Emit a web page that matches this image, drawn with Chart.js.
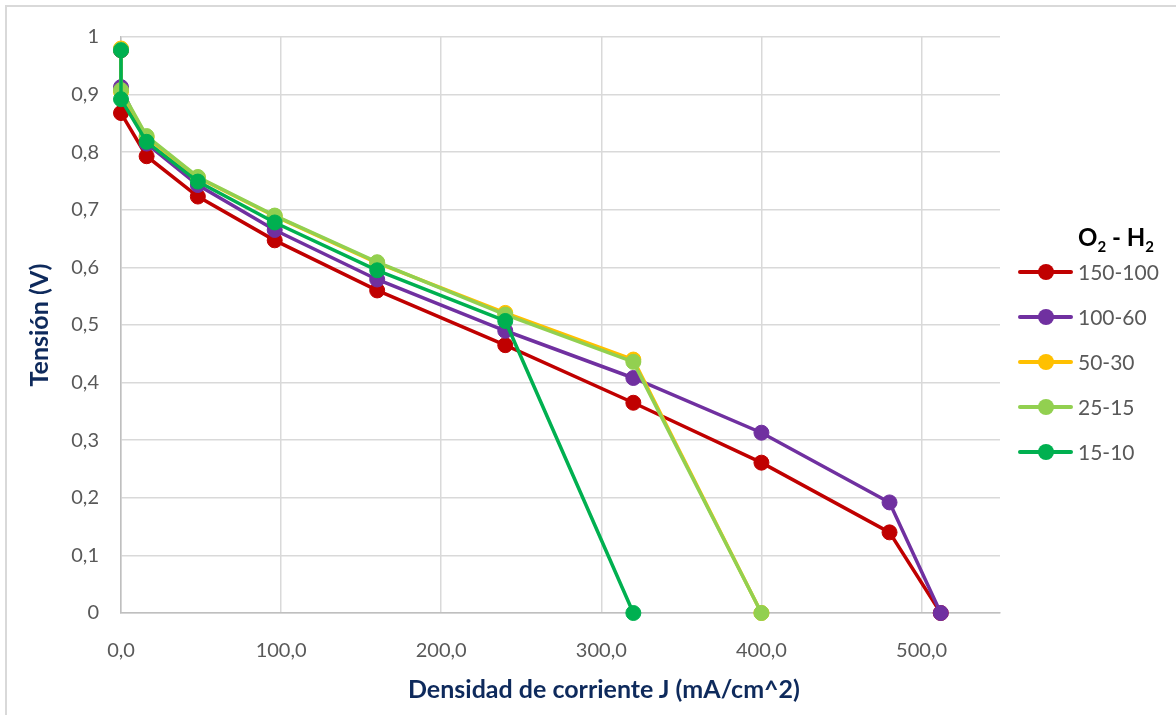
<!DOCTYPE html>
<html>
<head>
<meta charset="utf-8">
<script src="https://cdn.jsdelivr.net/npm/chart.js@4"></script>
<style>
    html, body { margin: 0; padding: 0; background: #ffffff; overflow: hidden; }
    #wrap { position: relative; width: 1176px; height: 715px; }
    #frame { position: absolute; left: 5px; top: 5px; width: 1200px; height: 740px; border: 2px solid #D9D9D9; box-sizing: border-box; pointer-events: none; }
    #xtitle { position: absolute; left: 0; top: 673px; width: 1208px; text-align: center; font-family: Lato, sans-serif; font-weight: bold; font-size: 25px; line-height: 30px; color: #0E2A5C; white-space: nowrap; }
    #legend { position: absolute; left: 1018px; top: 222px; font-family: Lato, sans-serif; }
    #legend .title { position: absolute; left: 60px; top: 0; font-weight: bold; font-size: 24px; color: #000; white-space: nowrap; }
    #legend .title sub { font-size: 15px; }
    #legend .item { position: absolute; left: 0; height: 24px; width: 160px; }
    #legend .swatch { position: absolute; left: 0; top: 10px; width: 55px; height: 4px; border-radius: 2px; }
    #legend .dot { position: absolute; left: 20px; top: 4px; width: 16px; height: 16px; border-radius: 50%; }
    #legend .label { position: absolute; left: 60px; top: 0; font-size: 21px; line-height: 24px; color: #595959; }
</style>
</head>
<body>
<div id="wrap">
    <canvas id="chart" width="1176" height="715"></canvas>
    <div id="frame"></div>
    <div id="xtitle">Densidad de corriente J (mA/cm^2)</div>
    <div id="legend"></div>
</div>
<script>
// current density J (mA/cm^2), shared by all series
const jValues = [0, 0, 16, 48, 96, 160, 240, 320, 400, 480, 512];

// cell voltage (V) per O2 - H2 flow pair
const v150_100 = [0.977, 0.868, 0.793, 0.723, 0.647, 0.560, 0.465, 0.365, 0.261, 0.140, 0];
const v100_60 = [0.978, 0.913, 0.815, 0.743, 0.665, 0.579, 0.490, 0.408, 0.313, 0.192, 0];
const v50_30 = [0.980, 0.905, 0.826, 0.756, 0.689, 0.608, 0.521, 0.440, 0];
const v25_15 = [0.978, 0.908, 0.828, 0.757, 0.690, 0.609, 0.518, 0.436, 0];
const v15_10 = [0.977, 0.892, 0.818, 0.749, 0.678, 0.595, 0.507, 0];

const seriesNames = ["150-100", "100-60", "50-30", "25-15", "15-10"];
const seriesValues = [v150_100, v100_60, v50_30, v25_15, v15_10];
const seriesColors = ["#C00000", "#7030A0", "#FFC000", "#92D050", "#00B050"];

const xTicks = [0, 100, 200, 300, 400, 500];

function toPoints(values) {
    return values.map((v, i) => ({ x: jValues[i], y: v }));
}

const datasets = seriesNames.map((name, i) => ({
    label: name,
    data: toPoints(seriesValues[i]),
    borderColor: seriesColors[i],
    backgroundColor: seriesColors[i],
    pointBackgroundColor: seriesColors[i],
    pointBorderColor: seriesColors[i],
    borderWidth: 3.5,
    pointRadius: 7.5,
    pointBorderWidth: 1,
    tension: 0,
    clip: false,
    // later series sit on top, like the original
    order: seriesNames.length - 1 - i
}));

const comma = (v, digits) => v.toFixed(digits).replace(".", ",");

new Chart(document.getElementById("chart"), {
    type: "scatter",
    data: { datasets: datasets },
    options: {
        responsive: false,
        animation: false,
        showLine: true,
        layout: { padding: { left: 0, top: 37, right: 176, bottom: 0 } },
        plugins: {
            legend: { display: false },
            tooltip: { enabled: false }
        },
        scales: {
            x: {
                type: "linear",
                min: 0,
                max: 549,
                afterBuildTicks: scale => {
                    scale.ticks = xTicks.map(v => ({ value: v }));
                },
                afterFit: scale => { scale.height = 102; },
                grid: { color: "#D9D9D9", lineWidth: 1.5, drawTicks: false },
                border: { color: "#BFBFBF", width: 1.5 },
                ticks: {
                    padding: 26,
                    color: "#595959",
                    font: { family: "Lato", size: 20 },
                    callback: v => comma(v, 1)
                },
                // the x title is an html div, centred on the whole chart like the original
                title: { display: false }
            },
            y: {
                min: 0,
                max: 1,
                afterFit: scale => { scale.width = 121; },
                grid: { color: "#D9D9D9", lineWidth: 1.5, drawTicks: false },
                border: { color: "#BFBFBF", width: 1.5 },
                ticks: {
                    stepSize: 0.1,
                    padding: 22,
                    color: "#595959",
                    font: { family: "Lato", size: 20 },
                    callback: v => (v === 0 || v === 1) ? String(v) : comma(v, 1)
                },
                title: {
                    display: true,
                    text: "Tensión (V)",
                    color: "#0E2A5C",
                    font: { family: "Lato", size: 25, weight: "bold" },
                    padding: { top: 25 }
                }
            }
        }
    }
});

// legend with subscripted title
const legend = document.getElementById("legend");
const title = document.createElement("div");
title.className = "title";
title.innerHTML = "O<sub>2</sub> - H<sub>2</sub>";
legend.appendChild(title);

seriesNames.forEach((name, i) => {
    const item = document.createElement("div");
    item.className = "item";
    item.style.top = (38 + i * 45) + "px";
    item.innerHTML =
        `<div class="swatch" style="background:${seriesColors[i]}"></div>` +
        `<div class="dot" style="background:${seriesColors[i]}"></div>` +
        `<div class="label">${name}</div>`;
    legend.appendChild(item);
});
</script>
</body>
</html>
